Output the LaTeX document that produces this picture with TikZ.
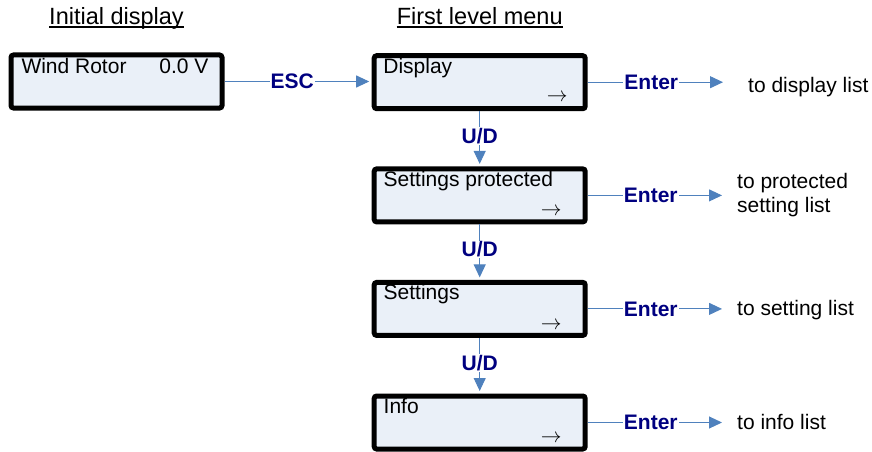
\documentclass[tikz,border=0pt]{standalone}
\usepackage{fontspec}
\setmainfont{Liberation Sans}
\usetikzlibrary{arrows.meta}

\definecolor{lcdfill}{RGB}{234,240,248}
\definecolor{flowblue}{RGB}{79,129,189}
\definecolor{keynavy}{RGB}{0,0,128}

\tikzset{
  lcd/.style={draw=black, line width=5pt, rounded corners=2.5pt, fill=lcdfill,
    minimum width=211pt, minimum height=53pt, inner sep=0pt},
  lcdtext/.style={anchor=base west, inner sep=0pt, font=\fontsize{21}{24}\selectfont},
  lcdarrow/.style={anchor=east, inner sep=0pt, font=\fontsize{21}{24}\selectfont},
  flow/.style={draw=flowblue, line width=1pt, -{Triangle[length=13pt,width=12pt]}},
  key/.style={fill=white, text=keynavy, inner sep=1pt, pos=0.46,
    font=\fontsize{21}{24}\selectfont\bfseries},
  target/.style={inner sep=0pt, align=left, font=\fontsize{21}{24}\selectfont},
  heading/.style={anchor=base, inner sep=0pt, font=\fontsize{23.5}{26}\selectfont},
}

\begin{document}
\begin{tikzpicture}[x=1pt,y=-1pt]
	\useasboundingbox (0,0) rectangle (872,452);

	% Headings, underlined
	\node[heading] (inithead) at (116.5,25) {Initial display};
	\node[heading] (menuhead) at (479.7,25) {First level menu};
	\draw[line width=1.5pt] ([yshift=-2pt]inithead.base west) -- ([yshift=-2pt]inithead.base east);
	\draw[line width=1.5pt] ([yshift=-2pt]menuhead.base west) -- ([yshift=-2pt]menuhead.base east);

	% Initial display
	\node[lcd] (init) at (116.5,81.5) {};
	\node[lcdtext] (inittext) at ([shift={(12.8,21)}]init.north west) {Wind Rotor};
	\node[lcdtext, anchor=base east] (initvalue) at ([shift={(-15.8,21)}]init.north east) {0.0 V};

	% First level menu boxes
	\node[lcd] (disp) at (479.7,82.2) {};
	\node[lcd] (prot) at (479.7,195.4) {};
	\node[lcd] (sett) at (479.7,308.9) {};
	\node[lcd] (info) at (479.7,422.5) {};

	\node[lcdtext] (disptext) at ([shift={(11.5,20.8)}]disp.north west) {Display};
	\node[lcdtext] (prottext) at ([shift={(11.8,20)}]prot.north west) {Settings protected};
	\node[lcdtext] (setttext) at ([shift={(11.8,20)}]sett.north west) {Settings};
	\node[lcdtext] (infotext) at ([shift={(11.8,20)}]info.north west) {Info};

	% Little arrows in the lower right corner
	\node[lcdarrow] (disparrow) at ([shift={(-20,-13.5)}]disp.south east) {$\rightarrow$};
	\node[lcdarrow] (protarrow) at ([shift={(-26,-12.5)}]prot.south east) {$\rightarrow$};
	\node[lcdarrow] (settarrow) at ([shift={(-26,-12.5)}]sett.south east) {$\rightarrow$};
	\node[lcdarrow] (infoarrow) at ([shift={(-26,-12.5)}]info.south east) {$\rightarrow$};

	% ESC from the initial display
	\draw[flow, shorten >=2.5pt] (init.east) -- node[key] {ESC} (init.east -| disp.west);

	% U/D between the menu entries
	\draw[flow, shorten >=2.5pt] (disp.south) -- node[key, pos=0.45] {U/D} (prot.north);
	\draw[flow, shorten >=2.5pt] (prot.south) -- node[key, pos=0.45] {U/D} (sett.north);
	\draw[flow, shorten >=2.5pt] (sett.south) -- node[key, pos=0.45] {U/D} (info.north);

	% Enter to the lists
	\coordinate (dispend) at (723,82.2);
	\coordinate (protend) at (722,195.4);
	\coordinate (settend) at (722,308.9);
	\coordinate (infoend) at (722,422.5);

	\draw[flow] (disp.east) -- node[key, pos=0.47] {Enter} (dispend);
	\draw[flow] (prot.east) -- node[key, pos=0.47] {Enter} (protend);
	\draw[flow] (sett.east) -- node[key, pos=0.47] {Enter} (settend);
	\draw[flow] (info.east) -- node[key, pos=0.47] {Enter} (infoend);

	\node[target, anchor=base west] (displist) at (748,92.3) {to display list};
	\node[target, anchor=west] (protlist) at (737,194.9) {to protected\\setting list};
	\node[target, anchor=base west] (settlist) at (737,315.3) {to setting list};
	\node[target, anchor=base west] (infolist) at (737,429.3) {to info list};

\end{tikzpicture}
\end{document}
